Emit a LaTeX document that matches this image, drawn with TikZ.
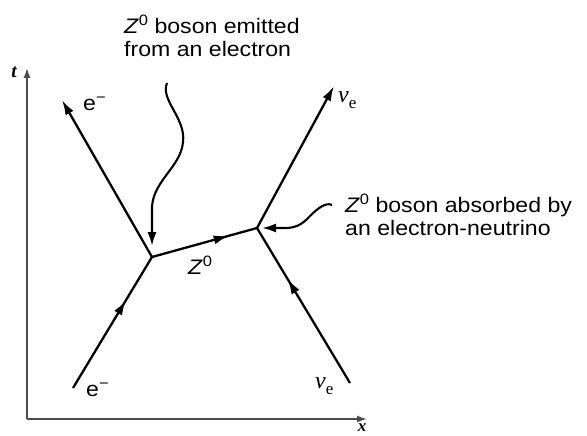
\documentclass[tikz,border=0pt]{standalone}
\usepackage{fontspec}
\setmainfont[FakeStretch=1.1]{Liberation Sans}
\newfontfamily\nufont{Liberation Serif}
\usetikzlibrary{arrows.meta,decorations.markings}
\newcommand{\Zb}{\textit{Z}\raisebox{0.75ex}{\fontsize{15}{15}\selectfont 0}}
\newcommand{\elec}{e\raisebox{0.75ex}{\fontsize{15}{15}\selectfont −}}
\newcommand{\nue}{{\nufont\itshape ν}\raisebox{-0.45ex}{\nufont\fontsize{17}{17}\selectfont e}}
\tikzset{
  tip/.style={-{Latex[length=15pt,width=9pt]}},
  particle/.style={line width=2.3pt},
  midarrow/.style={postaction={decorate},decoration={markings,mark=at position #1 with {\arrow{Latex[length=15pt,width=9pt]}}}},
  axis/.style={line width=1.4pt, draw=black!70, -{Latex[length=10pt,width=7pt]}},
  lab/.style={font=\fontsize{21}{23}\selectfont, inner sep=0pt},
  note/.style={lab, anchor=north west, align=left},
  pointer/.style={line width=2.1pt, -{Latex[length=14pt,width=9pt]}}
}
\begin{document}
\begin{tikzpicture}[x=1pt,y=-1pt]
\useasboundingbox (0,0) rectangle (587,436);
% axes
\coordinate (O) at (27,419);
\coordinate (tend) at (27,68);
\coordinate (xend) at (367,419);
\draw[axis] (O) -- (tend);
\draw[axis] (O) -- (xend);
\node[font=\fontsize{19}{19}\selectfont\nufont\bfseries\itshape, inner sep=0pt] (tl) at (14,72) {t};
\node[font=\fontsize{17}{17}\selectfont\nufont\bfseries\itshape, inner sep=0pt, anchor=north] (xl) at (362,423) {x};
% vertices and ends
\coordinate (A) at (152,257);
\coordinate (B) at (257,228);
\coordinate (ein) at (73,388);
\coordinate (eout) at (62,100);
\coordinate (nin) at (350,383);
\coordinate (nout) at (334,86);
\draw[particle, midarrow=0.67] (ein) -- (A);
\draw[particle, tip] (A) -- (eout);
\draw[particle, midarrow=0.73] (A) -- (B);
\draw[particle, midarrow=0.67] (nin) -- (B);
\draw[particle, tip] (B) -- (nout);
% particle labels
\node[lab, anchor=west] (etop) at (83,104) {\elec};
\node[lab, anchor=west] (ebot) at (86,390) {\elec};
\node[lab, anchor=west, font=\fontsize{24}{24}\selectfont] (ntop) at (338,100) {\nue};
\node[lab, anchor=west, font=\fontsize{24}{24}\selectfont] (nbot) at (315,386) {\nue};
\node[lab] (zl) at (200,265) {\Zb};
% annotations
\node[note] (n1) at (124,15) {\Zb{} boson emitted\\from an electron};
\node[note] (n2) at (345,194) {\Zb{} boson absorbed by\\an electron-neutrino};
\coordinate (c1) at (167,83);
\coordinate (c1t) at (152,246);
\draw[pointer] (c1) .. controls (160,100) and (186,118) .. (183,142)
  .. controls (181,168) and (150,182) .. (152,212) -- (c1t);
\coordinate (c2) at (332,205);
\coordinate (c2t) at (262,228);
\draw[pointer] (c2) .. controls (326,202) and (318,208) .. (310,216)
  .. controls (302,225) and (295,228) .. (285,228) -- (c2t);
\end{tikzpicture}
\end{document}
